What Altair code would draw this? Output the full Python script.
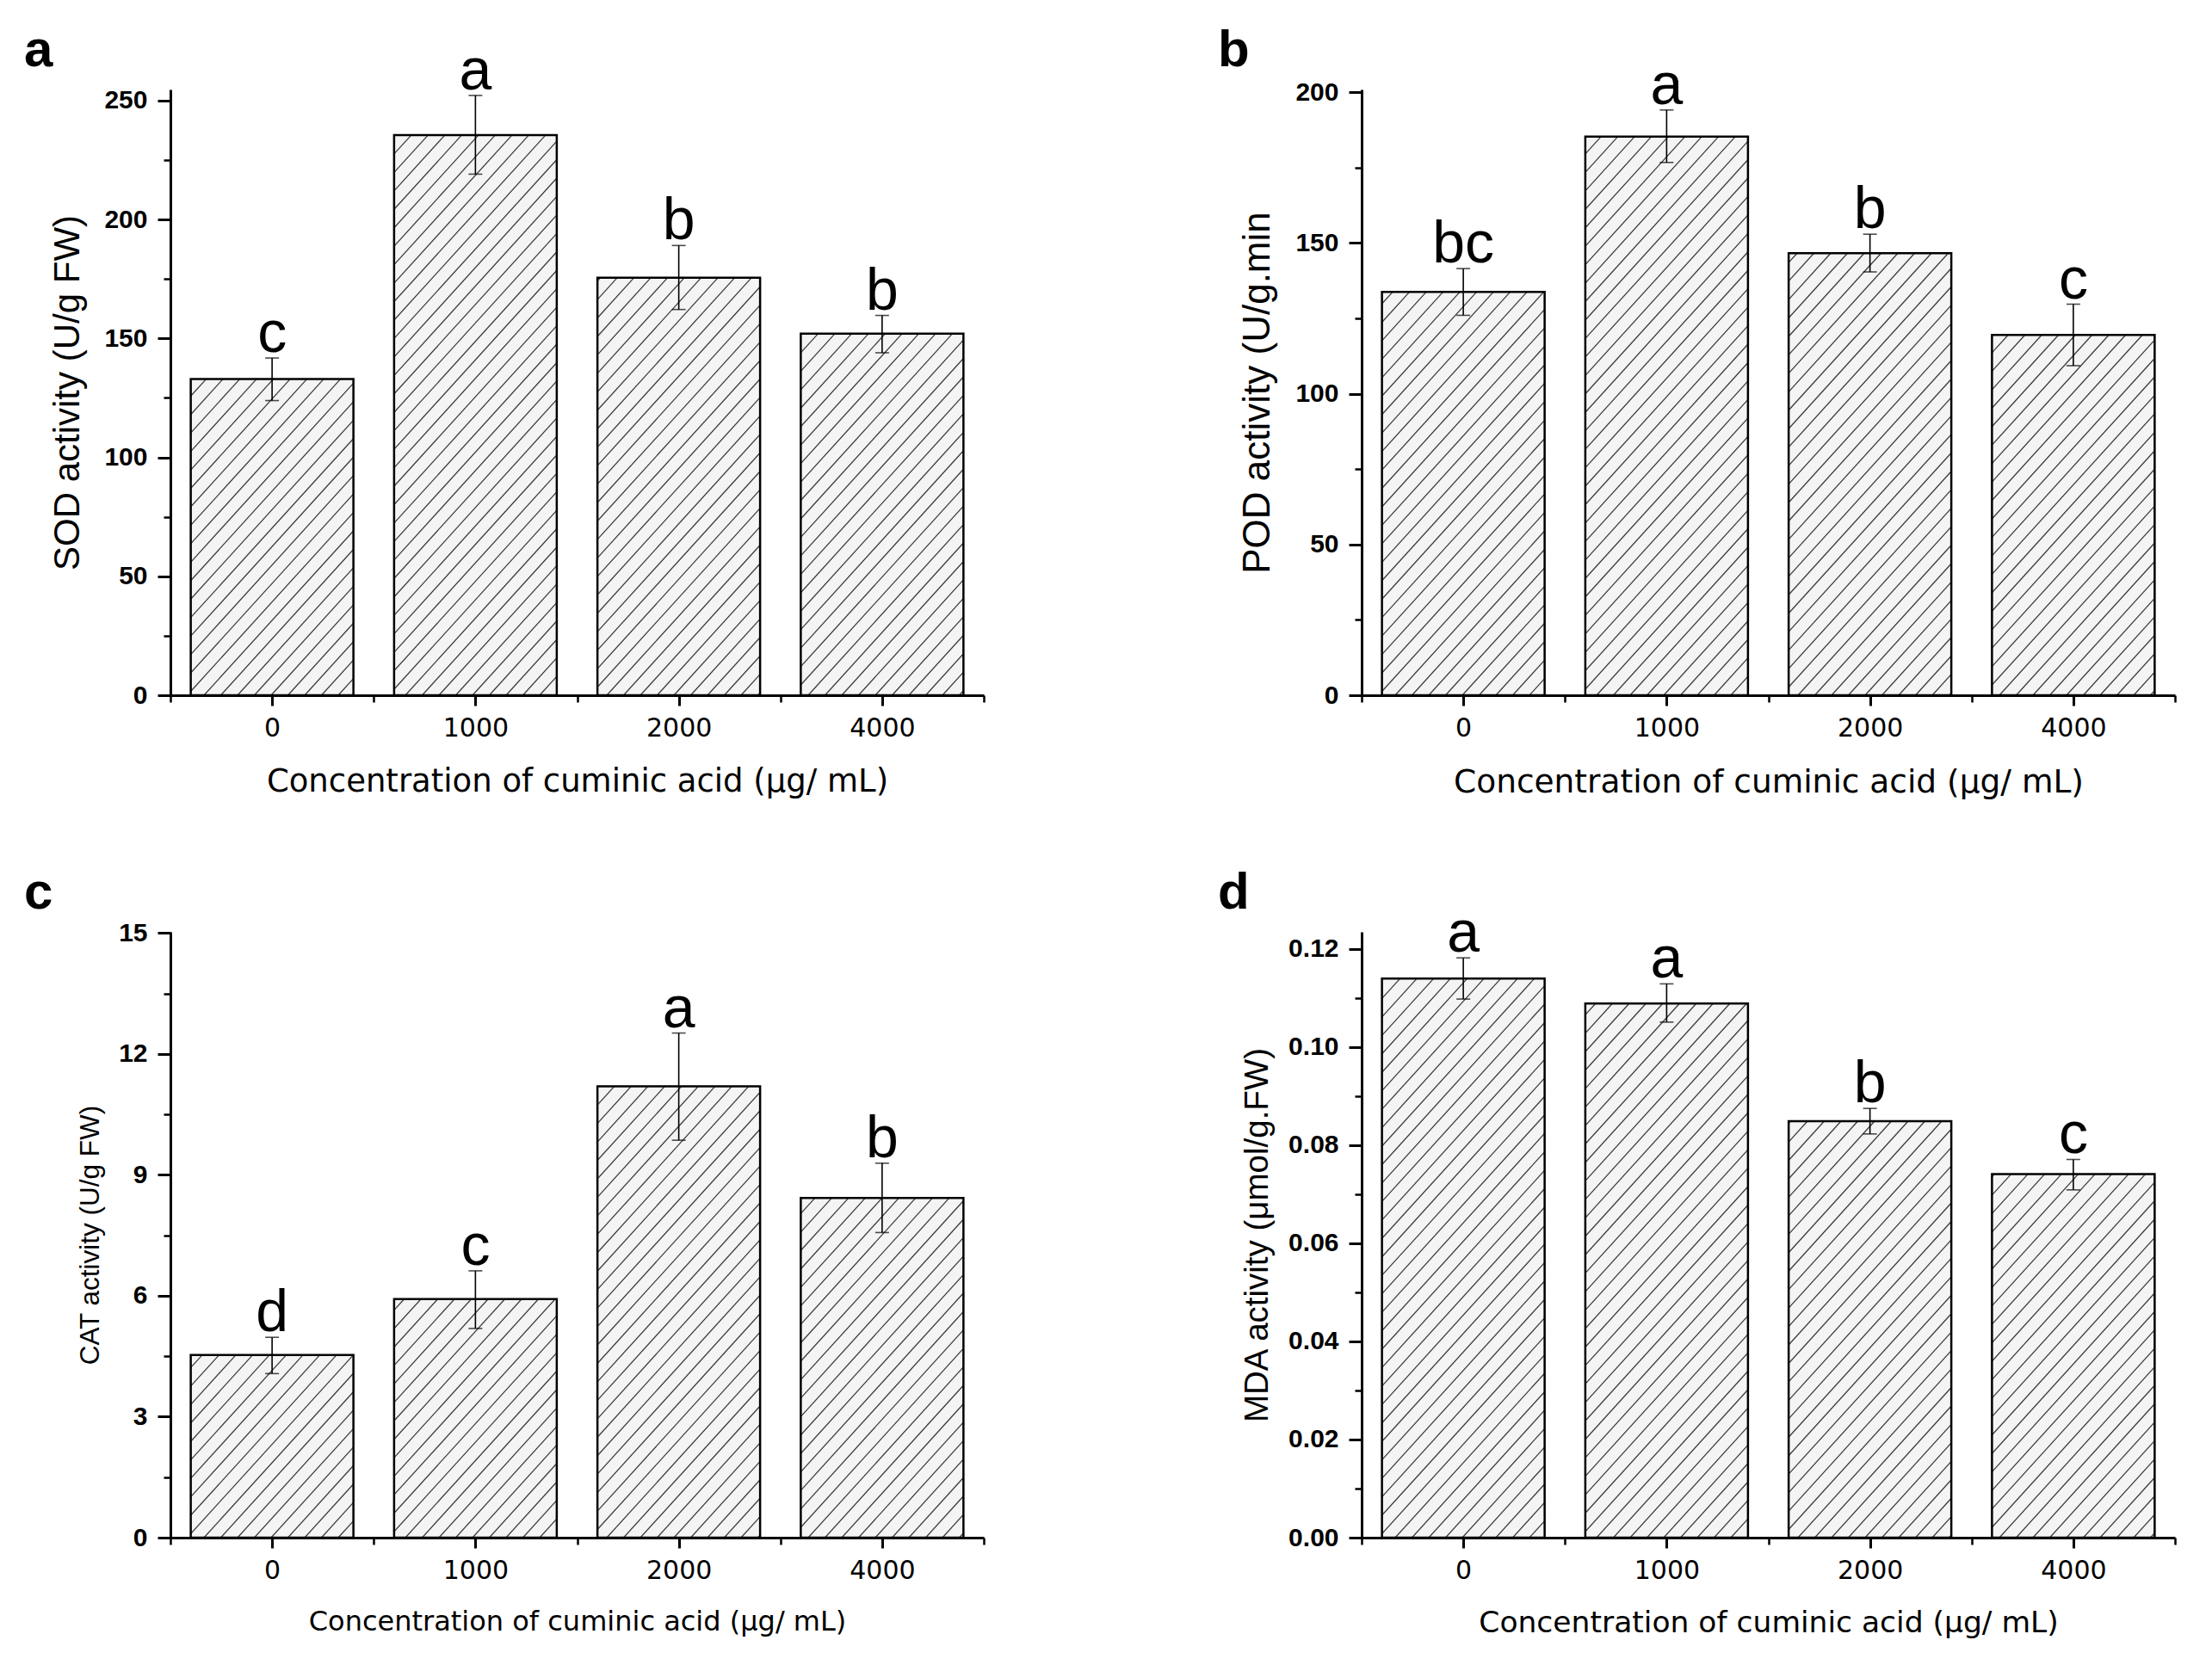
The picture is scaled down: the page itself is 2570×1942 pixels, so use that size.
import json
import altair as alt
import numpy as np
import pandas as pd

# ---------------- data ----------------
concs = ["0", "1000", "2000", "4000"]

sod_mean = [133.0, 235.5, 175.6, 152.0]
sod_lo = [123.9, 219.1, 162.2, 144.0]
sod_hi = [141.8, 252.2, 189.1, 159.7]
sod_sig = ["c", "a", "b", "b"]

pod_mean = [133.8, 185.3, 146.6, 119.5]
pod_lo = [126.0, 176.7, 140.4, 109.3]
pod_hi = [141.5, 194.1, 152.9, 129.7]
pod_sig = ["bc", "a", "b", "c"]

cat_mean = [4.53, 5.92, 11.20, 8.43]
cat_lo = [4.07, 5.19, 9.86, 7.57]
cat_hi = [4.97, 6.62, 12.52, 9.29]
cat_sig = ["d", "c", "a", "b"]

mda_mean = [0.1140, 0.1089, 0.0849, 0.0741]
mda_lo = [0.1098, 0.1051, 0.0823, 0.0709]
mda_hi = [0.1182, 0.1129, 0.0875, 0.0771]
mda_sig = ["a", "a", "b", "c"]

XTITLE = "Concentration of cuminic acid (μg/ mL)"

# ---------------- layout / style ----------------
W = 945
H = 704
BAR_HALF = 0.4
HATCH_STEP = 19.5
HATCH_SLOPE = 1.1

X_LABEL_EXPR = json.dumps(concs) + "[round(datum.value)]"


def hatch_lines(means, ymax):
    xpx = W / 4.0
    ypx = H / ymax
    rows = []
    for i, v in enumerate(means):
        u0 = (i - BAR_HALF + 0.5) * xpx
        u1 = (i + BAR_HALF + 0.5) * xpx
        h = v * ypx
        kmin = int(np.floor((u0 - h / HATCH_SLOPE) / HATCH_STEP)) - 1
        kmax = int(np.ceil(u1 / HATCH_STEP)) + 1
        for k in range(kmin, kmax + 1):
            c = k * HATCH_STEP
            wa = max(0.0, HATCH_SLOPE * (u0 - c))
            wb = min(h, HATCH_SLOPE * (u1 - c))
            if wb - wa > 0.5:
                rows.append({
                    "hx": (c + wa / HATCH_SLOPE) / xpx - 0.5,
                    "hy": wa / ypx,
                    "hx2": (c + wb / HATCH_SLOPE) / xpx - 0.5,
                    "hy2": wb / ypx,
                })
    return pd.DataFrame(rows)


def panel(letter, letter_dx, means, lo, hi, sig, ymax, major, minor, yfmt,
          ytitle, ytitle_size, ytitle_pad, xtitle_size):
    xs = alt.Scale(domain=[-0.5, 3.5], nice=False, zero=False)
    ys = alt.Scale(domain=[0, ymax], nice=False, zero=False)
    idx = list(range(len(concs)))
    df = pd.DataFrame({
        "i": idx,
        "x0": [i - BAR_HALF for i in idx],
        "x1": [i + BAR_HALF for i in idx],
        "m": means, "z": [0.0] * 4,
        "lo": lo, "hi": hi, "sig": sig,
    })
    caps = pd.DataFrame({"i": idx + idx, "v": lo + hi})

    xaxis = alt.Axis(values=[0, 1, 2, 3], labelExpr=X_LABEL_EXPR, title=XTITLE,
                     tickSize=12, tickWidth=3, domainWidth=3, labelPadding=11,
                     labelFlush=False, labelOverlap=False,
                     labelFont="DejaVu Sans", labelFontWeight="normal", labelFontSize=30,
                     titleFont="DejaVu Sans", titleFontSize=xtitle_size,
                     titleFontWeight="normal", titlePadding=29, grid=False)
    yaxis = alt.Axis(values=major, format=yfmt, title=ytitle,
                     tickSize=15, tickWidth=3, domainWidth=3, labelPadding=12,
                     labelFlush=False, labelOverlap=False,
                     labelFont="Liberation Sans", labelFontWeight="bold", labelFontSize=30,
                     titleFont="Liberation Sans", titleFontSize=ytitle_size,
                     titleFontWeight="normal", titlePadding=ytitle_pad, grid=False)
    xminor = alt.Axis(values=[-0.5, 0.5, 1.5, 2.5, 3.5], orient="bottom", labels=False,
                      domain=False, tickSize=8, tickWidth=2.5, title=None, grid=False)
    yminor = alt.Axis(values=minor, orient="left", labels=False, domain=False,
                      tickSize=8, tickWidth=2.5, title=None, grid=False)

    base = alt.Chart(df)
    fill = base.mark_rect(fill="#f4f4f4").encode(
        x=alt.X("x0:Q", scale=xs, axis=xaxis), x2="x1",
        y=alt.Y("m:Q", scale=ys, axis=yaxis), y2="z")
    hatch = alt.Chart(hatch_lines(means, ymax)).mark_rule(
        color="#3c3c3c", strokeWidth=1.3).encode(
        x=alt.X("hx:Q", scale=xs, axis=xminor), x2="hx2",
        y=alt.Y("hy:Q", scale=ys, axis=yminor), y2="hy2")
    outline = base.mark_rect(fillOpacity=0, stroke="black", strokeWidth=2.5).encode(
        x=alt.X("x0:Q", scale=xs, axis=None), x2="x1",
        y=alt.Y("m:Q", scale=ys, axis=None), y2="z")
    err = base.mark_rule(color="black", strokeWidth=1.6).encode(
        x=alt.X("i:Q", scale=xs, axis=None),
        y=alt.Y("lo:Q", scale=ys, axis=None), y2="hi")
    capm = alt.Chart(caps).mark_tick(orient="horizontal", size=16, thickness=1.6,
                                     color="black").encode(
        x=alt.X("i:Q", scale=xs, axis=None),
        y=alt.Y("v:Q", scale=ys, axis=None))
    sigt = base.mark_text(font="Liberation Sans", fontSize=68, baseline="alphabetic",
                          align="center", dy=-7, color="black").encode(
        x=alt.X("i:Q", scale=xs, axis=None),
        y=alt.Y("hi:Q", scale=ys, axis=None), text="sig:N")
    plabel = alt.Chart(pd.DataFrame({"t": [letter]})).mark_text(
        font="Liberation Sans", fontWeight="bold", fontSize=60, align="left",
        baseline="alphabetic", color="black").encode(
        x=alt.value(letter_dx), y=alt.value(-27), text="t:N")

    return alt.layer(fill, hatch, outline, err, capm, sigt, plabel).resolve_axis(
        x="independent", y="independent").properties(width=W, height=H)


pa = panel("a", -170, sod_mean, sod_lo, sod_hi, sod_sig, 254.7,
           [0, 50, 100, 150, 200, 250], [25, 75, 125, 175, 225], "d",
           "SOD activity (U/g FW)", 42, 20, 37)
pb = panel("b", -167, pod_mean, pod_lo, pod_hi, pod_sig, 200.9,
           [0, 50, 100, 150, 200], [25, 75, 125, 175], "d",
           "POD activity (U/g.min", 44, 21, 37.5)
pc = panel("c", -170, cat_mean, cat_lo, cat_hi, cat_sig, 15.03,
           [0, 3, 6, 9, 12, 15], [1.5, 4.5, 7.5, 10.5, 13.5], "d",
           "CAT activity (U/g FW)", 31.5, 16, 32)
pd_ = panel("d", -167, mda_mean, mda_lo, mda_hi, mda_sig, 0.1235,
            [0, 0.02, 0.04, 0.06, 0.08, 0.10, 0.12],
            [0.01, 0.03, 0.05, 0.07, 0.09, 0.11], ".2f",
            "MDA activity (μmol/g.FW)", 38.5, 16, 34.5)

chart = alt.concat(pa, pb, pc, pd_, columns=2,
                   spacing={"row": 275, "column": 439}, bounds="flush").configure(
    padding={"left": 20, "top": 21, "right": 10, "bottom": 10},
    background="white",
).configure_view(stroke=None).configure_axis(
    domainColor="black", tickColor="black", labelColor="black", titleColor="black",
)

chart.save("out.html", embed_options={"renderer": "svg", "actions": False})
